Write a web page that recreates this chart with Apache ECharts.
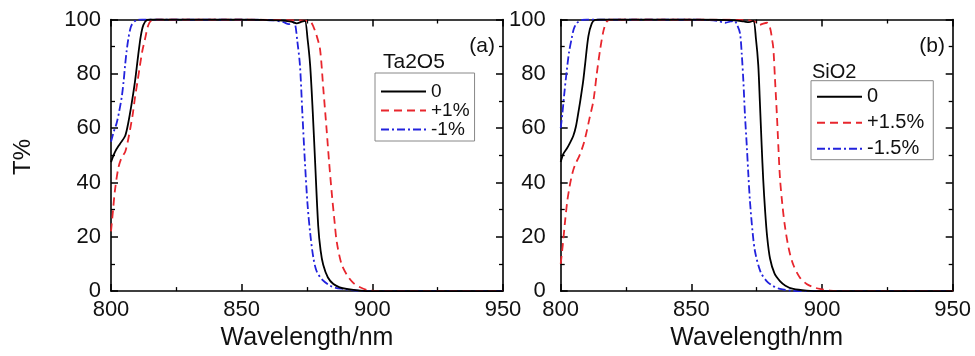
<!DOCTYPE html>
<html>
<head>
<meta charset="utf-8">
<script src="https://cdn.jsdelivr.net/npm/echarts@6/dist/echarts.min.js"></script>
<style>
html,body{margin:0;padding:0;background:#fff;}
#chart{width:975px;height:356px;}
</style>
</head>
<body>
<div id="chart"></div>
<script>
// ---- data (wavelength nm, transmittance %) ----
const xTicks = [800, 850, 900, 950];
const yTicks = [0, 20, 40, 60, 80, 100];

const taNames = ['0', '+1%', '-1%'];
const siNames = ['0', '+1.5%', '-1.5%'];

const taZero = [[800,47.5],[801.5,51.2],[803.4,54.2],[805.4,57.1],[806.6,61.9],[807.9,69],[809.2,77.3],[810.4,86.8],[811.4,93.9],[812.4,98],[813.7,99.8],[815,100],[830,100],[850,100],[860,99.8],[866,99.6],[869,99.2],[871,98.6],[873,99.2],[874.2,99.5],[875.2,93],[876.2,83.2],[877.2,66],[878.1,47.6],[879.3,23.9],[880.2,15],[881.2,9.7],[883,5],[885.1,2.6],[887.5,1.4],[890.2,0.8],[895.4,0.2],[900,0],[950,0]];
const taPlus = [[800,22],[800.8,30],[801.5,37],[802.8,45.3],[804,49],[805.4,51.2],[806.4,55],[807.3,59.5],[808.3,65],[809.2,71.4],[810.2,77.5],[811.1,83.2],[812,88.5],[813,92.7],[814.3,98],[815.6,99.8],[817,100],[850,100],[870,99.7],[875,99.5],[876.5,99],[877.4,97.5],[878.7,94],[880,89],[881.2,75],[882.5,59.5],[883.5,47],[884.5,35.8],[885.5,26],[886.4,18],[888.2,10],[890.2,6.1],[892.7,3],[895.3,1.4],[899.1,0.2],[905,0],[950,0]];
const taMinus = [[800,55],[801,58.5],[802.2,62],[803.2,66.5],[804.1,71.4],[804.8,77],[805.4,83.2],[806,88.5],[806.6,92.7],[807.2,95.8],[807.9,98],[809.8,99.8],[812,100],[850,100],[862,99.7],[866,99],[868,98.3],[869.5,99],[870.4,98.5],[871.3,92],[872.3,83.2],[873.2,66],[874.2,47.6],[875.2,32],[876.2,21.5],[877.4,12.5],[878.7,7.3],[881,4],[883.8,2],[886,1.2],[888.9,0.8],[893.9,0.2],[900,0],[950,0]];

const siZero = [[800,47.5],[801,50.5],[802.3,52.4],[803.5,54.5],[804.8,57.1],[805.8,60.5],[806.7,65.4],[807.4,69.5],[808.6,77.3],[809.3,83.2],[810.6,93.9],[811.9,98.6],[813.1,99.8],[815,100],[850,100],[865,99.8],[870,99.3],[872,99],[873.7,99.5],[874.7,93],[875.6,83.2],[876.2,70],[876.9,53.6],[877.5,41],[878.2,29.8],[879,20],[880.1,12],[881.8,6.5],[883.9,3.7],[886,2],[889,0.8],[894,0.2],[900,0],[950,0]];
const siPlus = [[800,10],[800.8,17],[801.6,25],[802.5,33],[803.5,39],[804.5,43.5],[805.5,46.5],[807,49.5],[808,52],[809,55],[810,59],[811,63.5],[812.5,70],[813.8,80],[815.1,89],[816.4,96],[817.6,99.2],[819,100],[850,100],[870,99.8],[874,99.3],[876,98],[877.5,98.5],[879,98.8],[880.1,97],[881,92],[881.4,89],[882,78],[882.7,65.4],[883.3,53],[883.9,41.7],[884.8,32],[885.8,23.9],[887.3,15.5],[889,9.7],[891.5,5],[894.1,2.6],[896.5,1.5],[899.2,0.8],[903,0.2],[910,0],[950,0]];
const siMinus = [[800,60],[800.6,65],[801.3,72],[802.3,81],[803.2,88],[804.2,93],[805,96.5],[806.1,98.6],[808,99.8],[810,100],[850,100],[860,99.5],[863,98.8],[865,99.3],[866.5,99.5],[867.5,98],[868.6,95],[869.3,87],[869.9,77.3],[870.5,65],[871.2,53.6],[871.8,43],[872.4,33.4],[873.4,22],[874.4,14.4],[876.5,7],[878.8,3.7],[881,2],[883.9,0.8],[888,0.2],[895,0],[950,0]];

// ---- styling ----
const FONT = 'Liberation Sans, Arial, sans-serif';
const BLACK = '#000000', RED = '#e8262d', BLUE = '#2222dd';
const styles = [
  {color: BLACK, type: 'solid'},
  {color: RED, type: [8, 5]},
  {color: BLUE, type: [8, 3, 2, 3]}
];

const xMin = xTicks[0], xMax = xTicks[xTicks.length - 1];
const xInt = xTicks[1] - xTicks[0];
const yMin = yTicks[0], yMax = yTicks[yTicks.length - 1];
const yInt = yTicks[1] - yTicks[0];

function xAx(grid, pos, labels, name) {
  return {
    type: 'value', gridIndex: grid, position: pos,
    min: xMin, max: xMax, interval: xInt,
    name: name || '', nameLocation: 'middle', nameGap: 28,
    nameTextStyle: {fontSize: 25, color: '#111', fontFamily: FONT},
    axisLine: {show: true, onZero: false, lineStyle: {color: '#000', width: 1.6}},
    axisTick: {show: true, inside: true, length: 7, lineStyle: {color: '#000', width: 1.5}},
    minorTick: {show: true, splitNumber: 2, length: 4, lineStyle: {color: '#000', width: 1.3}},
    splitLine: {show: false}, minorSplitLine: {show: false},
    axisLabel: {show: labels, fontSize: 22, color: '#111', margin: 8, fontFamily: FONT}
  };
}
function yAx(grid, pos, labels, margin) {
  return {
    type: 'value', gridIndex: grid, position: pos,
    min: yMin, max: yMax, interval: yInt,
    axisLine: {show: true, onZero: false, lineStyle: {color: '#000', width: 1.6}},
    axisTick: {show: true, inside: true, length: 7, lineStyle: {color: '#000', width: 1.5}},
    minorTick: {show: true, splitNumber: 2, length: 4, lineStyle: {color: '#000', width: 1.3}},
    splitLine: {show: false}, minorSplitLine: {show: false},
    axisLabel: {show: labels, fontSize: 22, color: '#111', margin: margin, fontFamily: FONT}
  };
}

function mkSeries(names, datas, grid) {
  return datas.map((d, i) => ({
    name: names[i], type: 'line', data: d,
    xAxisIndex: grid * 2, yAxisIndex: grid * 2,
    symbol: 'none', showSymbol: false, smooth: 0.3, clip: true,
    lineStyle: {color: styles[i].color, width: 1.8, type: styles[i].type},
    itemStyle: {color: styles[i].color},
    z: 3 - i
  }));
}

const legendBase = {
  orient: 'vertical', itemWidth: 45, itemHeight: 14,
  backgroundColor: '#fff', borderColor: '#888', borderWidth: 1, borderRadius: 0,
  selectedMode: false,
  itemStyle: {opacity: 0, borderWidth: 0}
};

const chart = echarts.init(document.getElementById('chart'), null, {renderer: 'canvas'});
chart.setOption({
  animation: false,
  backgroundColor: '#ffffff',
  grid: [
    {left: 111, top: 19.5, width: 392, height: 281},
    {left: 560.7, top: 19.5, width: 392, height: 281}
  ],
  xAxis: [
    xAx(0, 'bottom', true, 'Wavelength/nm'), xAx(0, 'top', false),
    xAx(1, 'bottom', true, 'Wavelength/nm'), xAx(1, 'top', false)
  ],
  yAxis: [
    yAx(0, 'left', true, 10), yAx(0, 'right', false, 10),
    yAx(1, 'left', true, 15), yAx(1, 'right', false, 15)
  ],
  title: [
    {text: 'Ta2O5', left: 383, top: 52, padding: 0, textStyle: {fontSize: 21, fontWeight: 'normal', color: '#111', fontFamily: FONT}},
    {text: 'SiO2', left: 812, top: 62, padding: 0, textStyle: {fontSize: 20, fontWeight: 'normal', color: '#111', fontFamily: FONT}},
    {text: '(a)', right: 480, top: 36, padding: 0, textStyle: {fontSize: 21, fontWeight: 'normal', color: '#111', fontFamily: FONT}},
    {text: '(b)', right: 30, top: 36, padding: 0, textStyle: {fontSize: 21, fontWeight: 'normal', color: '#111', fontFamily: FONT}}
  ],
  legend: [
    Object.assign({}, legendBase, {
      data: taNames, left: 375, top: 73,
      padding: [9, 5, 2, 5], itemGap: 0,
      textStyle: {fontSize: 19, lineHeight: 19, color: '#111', fontFamily: FONT}
    }),
    Object.assign({}, legendBase, {
      data: siNames, left: 811, top: 80.7,
      padding: [6, 9, 1, 5], itemGap: 6,
      textStyle: {fontSize: 20, lineHeight: 20, color: '#111', fontFamily: FONT}
    })
  ],
  graphic: [
    {type: 'text', x: 23, y: 157, rotation: Math.PI / 2,
     style: {text: 'T%', fontSize: 24, fill: '#111', fontFamily: FONT, textAlign: 'center', textVerticalAlign: 'middle'}}
  ],
  series: [].concat(
    mkSeries(taNames, [taZero, taPlus, taMinus], 0),
    mkSeries(siNames, [siZero, siPlus, siMinus], 1)
  )
});
</script>
</body>
</html>
